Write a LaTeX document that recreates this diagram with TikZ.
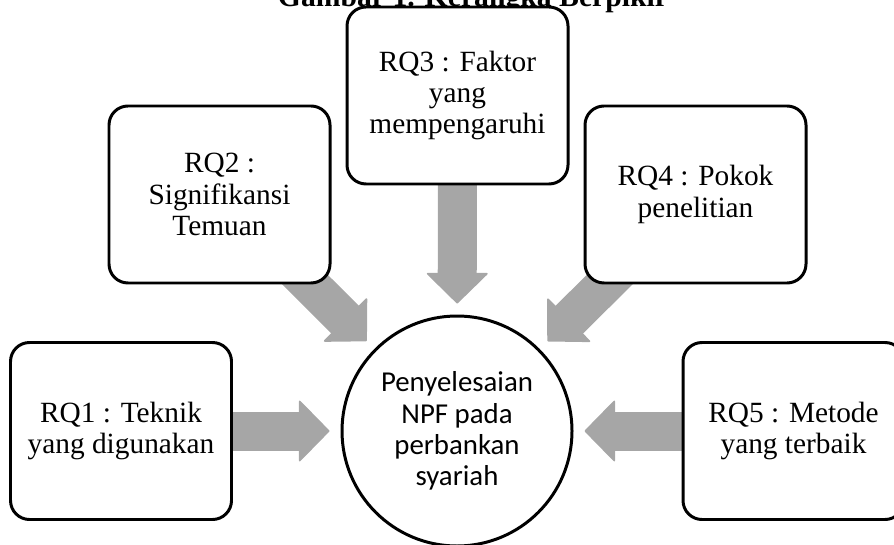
\documentclass[tikz,border=0pt]{standalone}
\usepackage{fontspec}
\setmainfont{Liberation Serif}
\newfontfamily\calibri{Carlito}
\usetikzlibrary{arrows.meta,backgrounds}
\definecolor{arrowgray}{RGB}{166,166,166}
\tikzset{
  rq/.style={draw, line width=1.7pt, rounded corners=0.38cm, fill=white,
    minimum width=4.42cm, minimum height=3.54cm, align=center,
    font=\fontsize{16.7}{17.8}\selectfont},
  hub/.style={draw, circle, line width=1.7pt, fill=white, minimum size=4.6cm,
    inner sep=0pt, align=center, font=\calibri\fontsize{16.4}{17.8}\selectfont},
  blockarrow/.style={draw=arrowgray, line width=0.78cm, shorten >=0.22cm,
    -{Triangle[length=0.62cm,width=1.26cm,line width=1pt,round]}}
}
\begin{document}
\begin{tikzpicture}

   \useasboundingbox (0,0) rectangle (17.88,10.88);
   \clip (0,0) rectangle (17.88,10.88);

   \node (judul) at (9.46,10.74) [anchor=base, font=\bfseries\fontsize{16.9}{18}\selectfont] {Gambar 1. Kerangka Berpikir};

   \node (npf) at (9.14,2.26) [hub] {Penyelesaian\\NPF pada\\perbankan\\syariah};

   \node (rq1) at (2.42,2.26) [rq] {RQ1 : Teknik\\yang digunakan};
   \node (rq2) at (4.39,6.99) [rq] {RQ2 :\\Signifikansi\\Temuan};
   \node (rq3) at (9.15,8.97) [rq] {RQ3 : Faktor\\yang\\mempengaruhi};
   \node (rq4) at (13.91,6.99) [rq] {RQ4 : Pokok\\penelitian};
   \node (rq5) at (15.87,2.26) [rq] {RQ5 : Metode\\yang terbaik};

   \begin{scope}[on background layer]
   \draw [blockarrow] (rq1.center) -- (npf);
   \draw [blockarrow] (rq2.center) -- (npf);
   \draw [blockarrow] (rq3.center) -- (npf);
   \draw [blockarrow] (rq4.center) -- (npf);
   \draw [blockarrow] (rq5.center) -- (npf);
   \end{scope}

   \end{tikzpicture}
\end{document}
